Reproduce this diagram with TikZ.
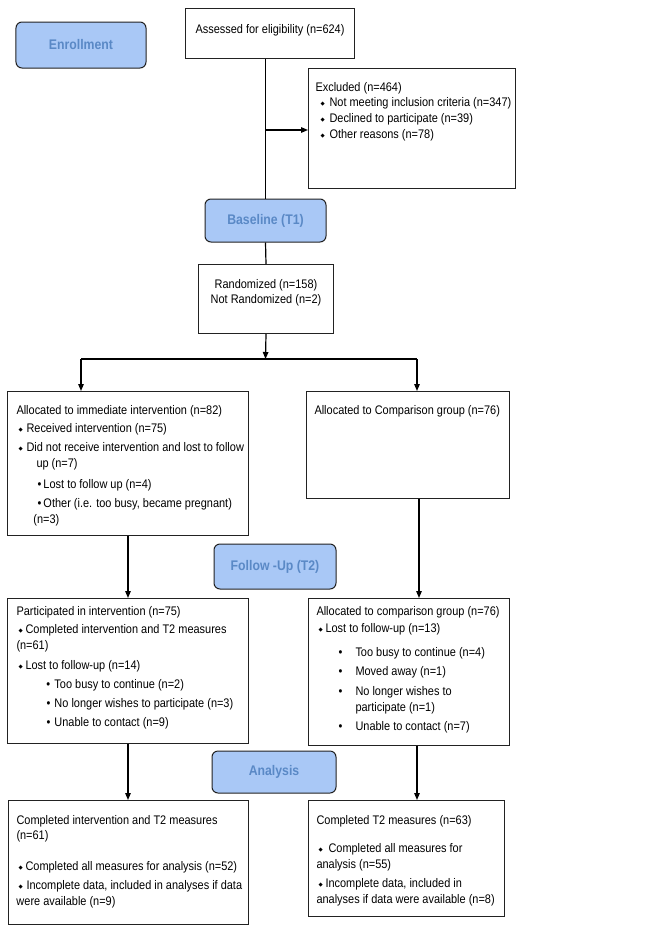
\documentclass[tikz,border=0pt]{standalone}
\usepackage{fontspec}
\setmainfont[FakeStretch=0.88]{Liberation Sans}
\newfontfamily\dejavu{DejaVu Sans}
\usetikzlibrary{arrows.meta}
\definecolor{hdrfill}{HTML}{A9C8F6}
\definecolor{hdrtext}{HTML}{5A89C6}
\definecolor{boxline}{HTML}{222222}
\newcommand\dia[2]{\makebox[#2bp][l]{\hspace*{#1bp}\raisebox{1.3bp}{\fontsize{5.5}{6}\selectfont\dejavu ◆}}}
\newcommand\bul[2]{\makebox[#2bp][l]{\hspace*{#1bp}•}}
\newcommand\lcontent[3]{\parbox[c][#2bp][t]{#1bp}{\noindent\begin{tabular}[t]{@{}l@{}}#3\end{tabular}}}
\newcommand\ccontent[3]{\parbox[c][#2bp][t]{#1bp}{\centering\noindent\begin{tabular}[t]{@{}c@{}}#3\end{tabular}}}
\begin{document}
\begin{tikzpicture}[x=1bp,y=-1bp,
  box/.style={draw=boxline, line width=1bp, fill=white, inner ysep=0pt, anchor=north west, font=\fontsize{12.5}{16}\selectfont},
  hdr/.style={draw=boxline, fill=hdrfill, rounded corners=6bp, line width=1bp, inner sep=0pt, font=\fontsize{14}{16}\selectfont\bfseries, text=hdrtext},
  line/.style={draw=black, line width=1.2bp},
  arr/.style={line, -{Triangle[length=7bp,width=5.5bp]}}]
\fill[white] (0,0) rectangle (669,934);
\useasboundingbox (0,0) rectangle (669,934);

% headers
\node[hdr, minimum width=130bp, minimum height=46bp] (enroll) at (81,45) {Enrollment};
\node[hdr, minimum width=121bp, minimum height=43bp] (baseline) at (265.5,220.5) {Baseline (T1)};
\node[hdr, minimum width=122bp, minimum height=45bp] (fulabel) at (275,566.5) {Follow -Up (T2)};
\node[hdr, minimum width=124bp, minimum height=42bp] (anlabel) at (274,772) {Analysis};

% boxes
\node[box, inner xsep=4bp] (assess) at (185,8) {\ccontent{161}{50}{\rule{0pt}{24.5bp}Assessed for eligibility (n=624)}};

\node[box, inner xsep=7bp] (excl) at (308,68) {\lcontent{193}{120}{\rule{0pt}{22.5bp}Excluded (n=464)\\
\dia{5}{14}Not meeting inclusion criteria (n=347)\\
\dia{5}{14}Declined to participate (n=39)\\
\dia{5}{14}Other reasons (n=78)}};

\node[box, inner xsep=4bp] (rand) at (198,264) {\ccontent{127}{69}{\rule{0pt}{23.5bp}Randomized (n=158)\\
Not Randomized (n=2)}};

\node[box, inner xsep=9bp] (alloc1) at (7,391) {\lcontent{223}{144}{\rule{0pt}{22.5bp}Allocated to immediate intervention (n=82)\\[3bp]
\dia{2}{10}Received intervention (n=75)\\[3bp]
\dia{2}{10}Did not receive intervention and lost to follow\\
\hspace*{20bp}up (n=7)\\[5bp]
\bul{21}{27}Lost to follow up (n=4)\\[3bp]
\bul{21}{27}Other (i.e. too busy, became pregnant)\\
\hspace*{17bp}(n=3)}};

\node[box, inner xsep=8bp] (alloc2) at (306,391) {\lcontent{187}{107}{\rule{0pt}{22.5bp}Allocated to Comparison group (n=76)}};

\node[box, inner xsep=9bp] (fu1) at (7,598) {\lcontent{223}{145}{\rule{0pt}{16.5bp}Participated in intervention (n=75)\\[3bp]
\dia{2}{9}Completed intervention and T2 measures\\
(n=61)\\[4bp]
\dia{2}{9}Lost to follow-up (n=14)\\[3bp]
\bul{30}{38}Too busy to continue (n=2)\\[3bp]
\bul{30}{38}No longer wishes to participate (n=3)\\[3bp]
\bul{30}{38}Unable to contact (n=9)}};

\node[box, inner xsep=8bp] (fu2) at (308,598) {\lcontent{185}{147}{\rule{0pt}{16.5bp}Allocated to comparison group (n=76)\\[2bp]
\dia{2}{9}Lost to follow-up (n=13)\\[8bp]
\bul{22}{39}Too busy to continue (n=4)\\[3bp]
\bul{22}{39}Moved away (n=1)\\[4bp]
\bul{22}{39}No longer wishes to\\
\hspace*{39bp}participate (n=1)\\[3bp]
\bul{22}{39}Unable to contact (n=7)}};

\node[box, inner xsep=8bp] (an1) at (8,800) {\lcontent{224}{124}{\rule{0pt}{23.5bp}Completed intervention and T2 measures\\
(n=61)\\[15bp]
\dia{2}{9}Completed all measures for analysis (n=52)\\[3bp]
\dia{2}{10}Incomplete data, included in analyses if data\\
were available (n=9)}};

\node[box, inner xsep=8bp] (an2) at (308,800) {\lcontent{180}{116}{\rule{0pt}{23.5bp}Completed T2 measures (n=63)\\[13bp]
\dia{2}{12}Completed all measures for\\
analysis (n=55)\\[3bp]
\dia{2}{9}Incomplete data, included in\\
analyses if data were available (n=8)}};

% connectors
\coordinate (exclJ) at (265.5,130);
\coordinate (split) at (265.5,359);
\coordinate (sL) at (81,359);
\coordinate (sR) at (417,359);
\coordinate (c2) at (419,0);
\coordinate (c3) at (417,0);
\draw[line] (assess.south -| baseline.north) -- (baseline.north);
\draw[arr] (exclJ) -- (exclJ -| excl.west);
\draw[line] (baseline.south) -- (rand.north);
\draw[arr] (rand.south) -- (split);
\draw[line] (sL) -- (sR);
\draw[arr] (sL) -- (sL |- alloc1.north);
\draw[arr] (sR) -- (sR |- alloc2.north);
\draw[arr] (alloc1.south) -- (alloc1.south |- fu1.north);
\draw[arr] (alloc2.south -| c2) -- (fu2.north -| c2);
\draw[arr] (fu1.south) -- (fu1.south |- an1.north);
\draw[arr] (fu2.south -| c3) -- (an2.north -| c3);
\end{tikzpicture}
\end{document}
